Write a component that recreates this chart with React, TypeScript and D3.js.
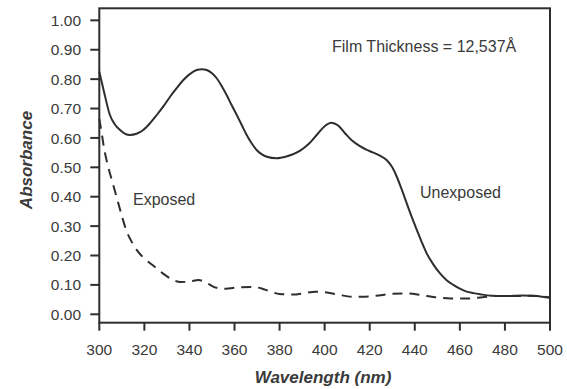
import React from "react";
import * as d3 from "d3";

const xTicks = [300, 320, 340, 360, 380, 400, 420, 440, 460, 480, 500];
const yTicks = [0, 0.1, 0.2, 0.3, 0.4, 0.5, 0.6, 0.7, 0.8, 0.9, 1.0];

const unexposedWl = [300, 302, 304.7, 307, 309.2, 311.5, 313.6, 316.5, 319.5, 322.5, 325.5, 328.5, 331.4, 334.4, 337.3, 340.3, 343.2, 345.5, 347.7, 350, 352.1, 354.3, 356.5, 358.7, 361, 363.2, 365.4, 367.6, 369.8, 372, 374.3, 378.7, 383, 389, 393, 397, 400, 403, 406, 409, 412, 415.7, 418.5, 421.6, 424.5, 427.5, 430, 432, 434.2, 436.4, 438.6, 440.9, 443.1, 445.3, 448.2, 451.2, 454, 457.1, 460, 463, 466, 469, 474, 480, 488, 494, 500];
const unexposedAbs = [0.825, 0.76, 0.678, 0.645, 0.627, 0.614, 0.61, 0.614, 0.627, 0.65, 0.678, 0.708, 0.74, 0.77, 0.797, 0.818, 0.831, 0.834, 0.831, 0.82, 0.803, 0.777, 0.746, 0.712, 0.678, 0.644, 0.61, 0.582, 0.559, 0.545, 0.536, 0.531, 0.537, 0.556, 0.58, 0.615, 0.64, 0.652, 0.642, 0.616, 0.592, 0.572, 0.56, 0.55, 0.54, 0.525, 0.5, 0.468, 0.425, 0.378, 0.332, 0.287, 0.245, 0.207, 0.17, 0.139, 0.117, 0.1, 0.087, 0.077, 0.072, 0.068, 0.063, 0.062, 0.064, 0.062, 0.056];

const exposedWl = [300, 301, 302, 304, 306, 308, 310, 312, 314.5, 317, 320, 324, 328, 332, 336, 340, 344, 348, 352, 356, 362, 368, 372, 376, 380, 386, 391, 396, 401, 406, 412, 418, 424, 430, 437, 443, 449, 456, 464, 470, 476, 485, 492, 500];
const exposedAbs = [0.665, 0.62, 0.57, 0.5, 0.445, 0.39, 0.335, 0.285, 0.245, 0.215, 0.19, 0.165, 0.14, 0.12, 0.11, 0.111, 0.117, 0.105, 0.09, 0.087, 0.092, 0.093, 0.088, 0.077, 0.069, 0.067, 0.072, 0.077, 0.074, 0.067, 0.06, 0.06, 0.064, 0.07, 0.071, 0.065, 0.058, 0.054, 0.054, 0.058, 0.062, 0.062, 0.063, 0.057];

const W = 567;
const H = 389;
const left = 99.3;
const right = 550;
const top = 8.3;
const bottom = 322.7;

const FONT = "'Liberation Sans', Arial, Helvetica, sans-serif";
const TEXT = "#3a3a3a";
const INK = "#2e2e2e";

export default function App() {
  const x = d3.scaleLinear().domain([300, 500]).range([left, right]);
  const y = d3.scaleLinear().domain([-0.0286, 1.041]).range([bottom, top]);

  const line = d3
    .line<[number, number]>()
    .x((d) => x(d[0]))
    .y((d) => y(d[1]))
    .curve(d3.curveMonotoneX);

  const unexposed = unexposedWl.map((w, i) => [w, unexposedAbs[i]] as [number, number]);
  const exposed = exposedWl.map((w, i) => [w, exposedAbs[i]] as [number, number]);

  return (
    <svg
      width={W}
      height={H}
      style={{ position: "absolute", left: 0, top: 0, background: "#fff" }}
      fontFamily={FONT}
    >
      <rect x={0} y={0} width={W} height={H} fill="#fff" />
      {/* frame */}
      <rect x={left} y={top} width={right - left} height={bottom - top} fill="none" stroke={INK} strokeWidth={2} />

      {/* y ticks */}
      {yTicks.map((t) => (
        <g key={"y" + t}>
          <line x1={left - 9} x2={left} y1={y(t)} y2={y(t)} stroke={INK} strokeWidth={2} />
          <text x={81} y={y(t)} dy="0.36em" textAnchor="end" fontSize={15.5} fill={TEXT}>
            {t.toFixed(2)}
          </text>
        </g>
      ))}

      {/* x ticks */}
      {xTicks.map((t) => (
        <g key={"x" + t}>
          <line x1={x(t)} x2={x(t)} y1={bottom} y2={bottom + 8} stroke={INK} strokeWidth={2} />
          <text x={x(t)} y={355} textAnchor="middle" fontSize={15.5} fill={TEXT}>
            {t}
          </text>
        </g>
      ))}

      {/* curves */}
      <path d={line(unexposed) || ""} fill="none" stroke={INK} strokeWidth={2} />
      <path d={line(exposed) || ""} fill="none" stroke={INK} strokeWidth={2} strokeDasharray="10 7" />

      {/* annotations */}
      <text x={332} y={52} fontSize={16} fill={TEXT}>Film Thickness = 12,537Å</text>
      <text x={133} y={205} fontSize={16} fill={TEXT}>Exposed</text>
      <text x={420} y={198} fontSize={16} fill={TEXT}>Unexposed</text>

      {/* axis titles */}
      <text x={323} y={383} textAnchor="middle" fontSize={17} fontWeight="bold" fontStyle="italic" fill={TEXT}>
        Wavelength (nm)
      </text>
      <text
        transform={`translate(32,160) rotate(-90)`}
        textAnchor="middle"
        fontSize={17}
        fontWeight="bold"
        fontStyle="italic"
        fill={TEXT}
      >
        Absorbance
      </text>
    </svg>
  );
}
